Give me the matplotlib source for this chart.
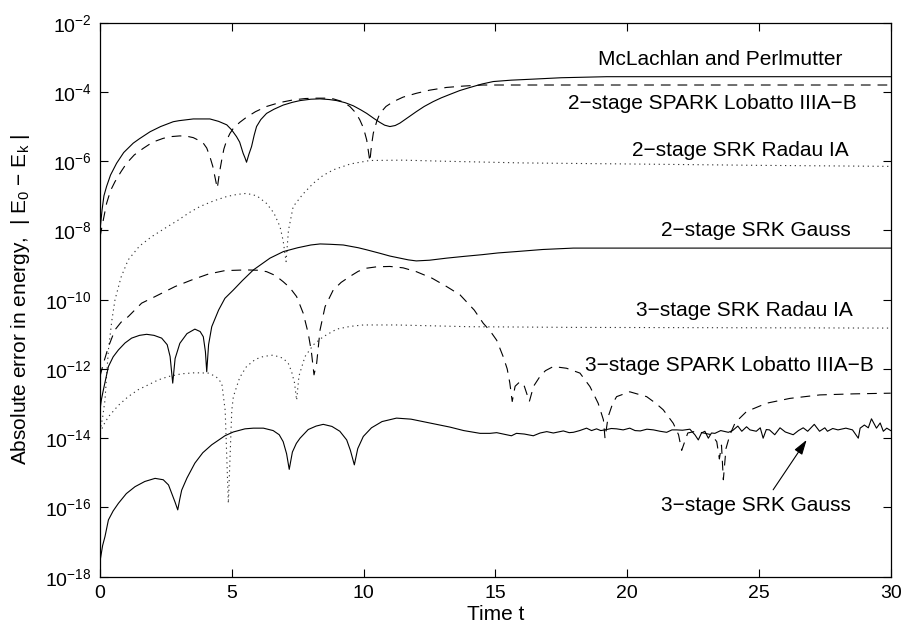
import numpy as np
import matplotlib
matplotlib.use('Agg')
import matplotlib.pyplot as plt
from matplotlib.ticker import NullLocator

plt.rcParams['font.family'] = ['Liberation Sans', 'DejaVu Sans']
plt.rcParams['mathtext.fontset'] = 'custom'
plt.rcParams['mathtext.rm'] = 'Liberation Sans'
plt.rcParams['mathtext.it'] = 'Liberation Sans:italic'
plt.rcParams['mathtext.default'] = 'regular'
plt.rcParams['lines.scale_dashes'] = False

# values: time and log10 of the energy error

# McLachlan and Perlmutter (solid)
mp_t = [0, 0.08, 0.15, 0.25, 0.4, 0.63, 0.9, 1.26, 1.5, 1.9, 2.3, 2.78, 3.0, 3.54, 4.17,
        4.5, 4.81, 5.0, 5.18, 5.3, 5.43, 5.5, 5.56, 5.65, 5.75, 5.85, 5.94, 6.1, 6.32, 6.6,
        6.95, 7.3, 7.59, 8.0, 8.35, 8.7, 8.98, 9.3, 9.61, 9.9, 10.12, 10.4, 10.62, 10.8,
        11.0, 11.2, 11.38, 11.7, 12.0, 12.3, 12.64, 12.95, 13.28, 13.65, 14.04, 14.5, 14.92,
        15.6, 16.44, 17.5, 19.22, 30]
mp_log = [-8.0, -7.4, -7.0, -6.73, -6.4, -6.06, -5.75, -5.48, -5.35, -5.15, -5.0, -4.86,
          -4.83, -4.78, -4.78, -4.85, -4.95, -5.1, -5.29, -5.45, -5.77, -5.9, -6.03, -5.8,
          -5.58, -5.25, -5.0, -4.8, -4.62, -4.5, -4.38, -4.3, -4.25, -4.21, -4.20, -4.22,
          -4.25, -4.31, -4.40, -4.52, -4.62, -4.77, -4.88, -4.96, -5.0, -4.97, -4.9, -4.73,
          -4.57, -4.42, -4.28, -4.17, -4.07, -3.96, -3.87, -3.77, -3.70, -3.66, -3.63, -3.59,
          -3.56, -3.56]

# 2-stage SPARK Lobatto IIIA-B (dashed)
sp2_t = [0, 0.06, 0.25, 0.4, 0.57, 0.8, 1.01, 1.3, 1.64, 2.0, 2.4, 2.7, 3.03, 3.3, 3.54,
         3.75, 3.92, 4.05, 4.17, 4.28, 4.36, 4.45, 4.54, 4.62, 4.7, 4.81, 4.93, 5.06, 5.3,
         5.56, 5.9, 6.32, 6.8, 7.33, 7.8, 8.22, 8.55, 8.85, 9.2, 9.48, 9.7, 9.86, 10.0, 10.12,
         10.24, 10.3, 10.37, 10.5, 10.62, 10.85, 11.13, 11.5, 12.0, 12.5, 13.15, 13.8, 14.54,
         30]
sp2_log = [-8.2, -7.95, -7.22, -6.85, -6.59, -6.3, -6.06, -5.82, -5.63, -5.45, -5.34, -5.29,
           -5.27, -5.28, -5.32, -5.4, -5.48, -5.62, -5.87, -6.15, -6.45, -6.78, -6.3, -5.96,
           -5.65, -5.39, -5.2, -5.05, -4.88, -4.73, -4.57, -4.42, -4.31, -4.23, -4.19, -4.18,
           -4.18, -4.2, -4.28, -4.42, -4.6, -4.81, -5.05, -5.39, -6.01, -5.55, -5.19, -4.85,
           -4.62, -4.42, -4.28, -4.15, -4.04, -3.95, -3.87, -3.83, -3.80, -3.80]

# 2-stage SRK Radau IA (dotted)
rd2_t = [0, 0.1, 0.19, 0.25, 0.32, 0.45, 0.57, 0.8, 1.07, 1.5, 1.96, 2.5, 2.97, 3.4, 3.79,
         4.3, 4.81, 5.2, 5.56, 5.95, 6.32, 6.6, 6.83, 6.95, 7.06, 7.15, 7.33, 7.7, 8.09, 8.45,
         8.85, 9.5, 10.24, 11.5, 13.0, 16.0, 20.0, 25.0, 30]
rd2_log = [-13.8, -13.4, -12.9, -12.2, -11.45, -10.6, -10.0, -9.35, -8.85, -8.45, -8.18,
           -7.92, -7.70, -7.48, -7.31, -7.15, -7.02, -6.96, -6.93, -7.0, -7.22, -7.5, -7.89,
           -8.3, -8.9, -8.0, -7.31, -6.95, -6.64, -6.42, -6.25, -6.08, -5.98, -5.97, -6.0,
           -6.05, -6.08, -6.12, -6.15]

# 2-stage SRK Gauss (solid)
ga2_t = [0, 0.05, 0.13, 0.32, 0.5, 0.7, 0.95, 1.2, 1.5, 1.77, 2.05, 2.34, 2.55, 2.66, 2.76,
         2.85, 3.03, 3.3, 3.6, 3.8, 3.92, 4.0, 4.05, 4.12, 4.24, 4.5, 4.74, 5.06, 5.4, 5.82,
         6.45, 6.96, 7.5, 8.0, 8.35, 8.73, 9.23, 9.8, 10.12, 10.62, 11.0, 11.38, 11.7, 12.0,
         12.5, 13.15, 13.8, 14.5, 15.1, 15.8, 16.8, 17.96, 30]
ga2_log = [-13.18, -12.9, -12.6, -11.93, -11.65, -11.45, -11.25, -11.11, -11.03, -11.0,
           -11.03, -11.11, -11.3, -11.64, -12.41, -11.7, -11.26, -10.98, -10.85, -10.92,
           -11.07, -11.5, -12.08, -11.3, -10.78, -10.3, -9.96, -9.72, -9.45, -9.14, -8.80,
           -8.61, -8.5, -8.42, -8.39, -8.40, -8.42, -8.5, -8.56, -8.66, -8.74, -8.80, -8.85,
           -8.88, -8.86, -8.80, -8.75, -8.70, -8.65, -8.61, -8.55, -8.51, -8.51]

# 3-stage SRK Radau IA (dotted)
rd3_t = [0, 0.15, 0.32, 0.7, 1.07, 1.45, 1.83, 2.2, 2.59, 3.1, 3.6, 4.11, 4.4, 4.62, 4.75,
         4.87, 5.0, 5.06, 5.3, 5.56, 5.9, 6.2, 6.57, 6.95, 7.15, 7.27, 7.38, 7.46, 7.55, 7.78,
         8.1, 8.47, 8.98, 9.5, 9.99, 11.25, 14.0, 18.0, 30]
rd3_log = [-13.85, -13.6, -13.38, -13.05, -12.8, -12.6, -12.46, -12.32, -12.22, -12.14,
           -12.11, -12.12, -12.22, -12.41, -13.2, -15.88, -13.2, -12.8, -12.25, -11.93,
           -11.72, -11.64, -11.6, -11.69, -11.85, -12.08, -12.4, -12.9, -12.2, -11.64, -11.3,
           -11.07, -10.85, -10.77, -10.73, -10.73, -10.78, -10.8, -10.82]

# 3-stage SPARK Lobatto IIIA-B (dashed)
sp3_t = [0, 0.13, 0.32, 0.57, 0.8, 1.07, 1.58, 2.09, 2.85, 3.48, 4.11, 4.74, 5.56, 6.0,
         6.32, 6.65, 6.95, 7.2, 7.46, 7.71, 7.9, 8.02, 8.12, 8.22, 8.35, 8.54, 8.85, 9.15,
         9.48, 9.8, 10.12, 10.5, 11.0, 11.5, 12.0, 12.6, 13.15, 13.66, 14.2, 14.54, 14.8,
         15.05, 15.3, 15.45, 15.55, 15.64, 15.75, 15.93, 16.1, 16.29, 16.45, 16.69, 16.9,
         17.2, 17.7, 18.21, 18.59, 18.9, 19.1, 19.16, 19.28, 19.45, 19.6, 20.1, 20.74, 21.1,
         21.37, 21.75, 21.95, 22.07, 22.3, 22.6, 22.9, 23.2, 23.4, 23.5, 23.58, 23.65, 23.75,
         23.9, 24.1, 24.53, 25.29, 26.18, 27.31, 28.58, 30]
sp3_log = [-12.22, -11.84, -11.36, -10.87, -10.65, -10.49, -10.1, -9.91, -9.62, -9.43,
           -9.26, -9.16, -9.14, -9.15, -9.19, -9.3, -9.48, -9.65, -9.91, -10.39, -10.97,
           -11.5, -12.17, -11.84, -10.87, -10.2, -9.72, -9.5, -9.33, -9.18, -9.09, -9.05,
           -9.04, -9.08, -9.19, -9.38, -9.62, -9.86, -10.3, -10.68, -10.9, -11.17, -11.65,
           -12.0, -12.41, -12.94, -12.5, -12.37, -12.5, -12.94, -12.5, -12.22, -12.05, -11.93,
           -11.98, -12.12, -12.51, -12.99, -13.47, -14.0, -13.38, -13.0, -12.8, -12.66,
           -12.8, -13.0, -13.18, -13.57, -13.9, -14.35, -13.85, -13.8, -13.85, -13.9, -14.1,
           -14.6, -14.2, -15.2, -14.3, -13.9, -13.55, -13.23, -12.99, -12.85, -12.75, -12.72,
           -12.70]

# 3-stage SRK Gauss (solid, round-off noise after t ~ 14)
ga3_t = [0, 0.1, 0.19, 0.32, 0.5, 0.7, 1.0, 1.33, 1.7, 2.09, 2.4, 2.6, 2.72, 2.85, 2.95,
         3.03, 3.1, 3.3, 3.6, 3.9, 4.24, 4.74, 5.06, 5.5, 5.82, 6.2, 6.57, 6.8, 6.95, 7.08,
         7.18, 7.3, 7.45, 7.59, 7.9, 8.2, 8.47, 8.8, 9.1, 9.36, 9.5, 9.65, 9.78, 9.99, 10.3,
         10.7, 11.25, 11.8, 12.5, 13.28,
         13.8, 14.42, 14.8, 15.05, 15.3, 15.61, 15.8, 16.1, 16.44, 16.7, 16.95, 17.2, 17.58,
         17.8, 17.96, 18.2, 18.46, 18.65, 18.84, 19.0, 19.16, 19.4, 19.6, 19.85, 20.1, 20.3,
         20.5, 20.75, 21.0, 21.25, 21.5, 21.7, 21.88, 22.1, 22.38, 22.57, 22.7, 22.82, 22.95,
         23.08, 23.2, 23.33, 23.55, 23.84, 24.0, 24.2, 24.35, 24.53, 24.66, 24.9, 25.05,
         25.16, 25.28, 25.4, 25.6, 25.8, 26.0, 26.3, 26.5, 26.68, 26.85, 27.1, 27.3, 27.5,
         27.6, 27.8, 28.0, 28.3, 28.55, 28.77, 28.84, 29.0, 29.15, 29.27, 29.46, 29.6,
         29.72, 29.85, 30]
ga3_log = [-17.56, -17.1, -16.84, -16.36, -16.1, -15.88, -15.6, -15.4, -15.25, -15.16, -15.2,
           -15.35, -15.59, -15.85, -16.07, -15.75, -15.5, -15.15, -14.72, -14.42, -14.19,
           -13.93, -13.82, -13.73, -13.71, -13.71, -13.78, -13.9, -14.1, -14.45, -14.9,
           -14.4, -14.15, -14.0, -13.75, -13.65, -13.6, -13.66, -13.8, -14.05, -14.35,
           -14.77, -14.3, -13.95, -13.7, -13.52, -13.42, -13.45, -13.56, -13.68,
           -13.78, -13.86, -13.86,
           -13.84, -13.88, -13.93, -13.86, -13.88, -13.93, -13.85, -13.81, -13.85, -13.79,
           -13.84, -13.83, -13.78, -13.71, -13.78, -13.73, -13.78, -13.76, -13.72, -13.73,
           -13.76, -13.71, -13.78, -13.79, -13.74, -13.76, -13.8, -13.83, -13.76, -13.76,
           -13.77, -13.74, -13.9, -14.05, -13.85, -13.8, -14.0, -13.85, -13.86, -13.78,
           -13.83, -13.78, -13.65, -13.8, -13.67, -13.76, -13.8, -13.7, -14.0, -13.75,
           -13.76, -13.9, -13.7, -13.82, -13.9, -13.78, -13.7, -13.8, -13.6, -13.8, -13.7,
           -13.8, -13.72, -13.76, -13.71, -13.76, -14.0, -13.71, -13.62, -13.7, -13.44,
           -13.71, -13.56, -13.8, -13.71, -13.78]

solid = '-'
dashed = (0, (7, 5))
dotted = (0, (0.9, 2.6))

fig = plt.figure(figsize=(9.04, 6.3), dpi=100)
ax = fig.add_axes([0.1106, 0.0846, 0.8747, 0.8794])

curves = [
    (mp_t, mp_log, solid, 'black'),
    (sp2_t, sp2_log, dashed, 'black'),
    (rd2_t, rd2_log, dotted, '0.2'),
    (ga2_t, ga2_log, solid, 'black'),
    (rd3_t, rd3_log, dotted, '0.2'),
    (sp3_t, sp3_log, dashed, 'black'),
    (ga3_t, ga3_log, solid, 'black'),
]
for t, lg, ls, c in curves:
    ax.semilogy(t, 10.0 ** np.array(lg), color=c, linestyle=ls, linewidth=0.8)

ax.set_xlim(0, 30)
ax.set_ylim(1e-18, 1e-2)
ax.set_xticks([0, 5, 10, 15, 20, 25, 30])
ax.set_yticks([10.0 ** k for k in range(-18, -1, 2)])
ax.yaxis.set_minor_locator(NullLocator())
ax.tick_params(direction='in', length=6, width=0.8, top=True, right=True,
               labelsize=14, pad=6)
for s in ax.spines.values():
    s.set_linewidth(0.9)

ax.set_xlabel('Time t', fontsize=15)
ax.xaxis.set_label_coords(0.5, -0.069)
ax.xaxis.label.set_verticalalignment('center')
ax.set_ylabel('Absolute error in energy,  | E$_0$ − E$_k$ |', fontsize=15)
ax.yaxis.set_label_coords(-0.1, 0.5)
ax.yaxis.label.set_verticalalignment('center')

fs = 15
ax.text(23.52, 10 ** -3.05, 'McLachlan and Perlmutter', fontsize=fs, ha='center', va='center')
ax.text(23.24, 10 ** -4.32, '2−stage SPARK Lobatto IIIA−B', fontsize=fs, ha='center', va='center')
ax.text(24.3, 10 ** -5.68, '2−stage SRK Radau IA', fontsize=fs, ha='center', va='center')
ax.text(24.87, 10 ** -7.99, '2−stage SRK Gauss', fontsize=fs, ha='center', va='center')
ax.text(24.43, 10 ** -10.30, '3−stage SRK Radau IA', fontsize=fs, ha='center', va='center')
ax.text(23.9, 10 ** -11.91, '3−stage SPARK Lobatto IIIA−B', fontsize=fs, ha='center', va='center')
ax.text(24.87, 10 ** -15.93, '3−stage SRK Gauss', fontsize=fs, ha='center', va='center')
ax.annotate('', xy=(26.81, 10 ** -14.05), xytext=(25.54, 10 ** -15.49),
            arrowprops=dict(arrowstyle='-|>,head_length=0.9,head_width=0.28',
                            color='black', lw=0.8, shrinkA=0, shrinkB=0))

fig.savefig('out.png', dpi=100)
